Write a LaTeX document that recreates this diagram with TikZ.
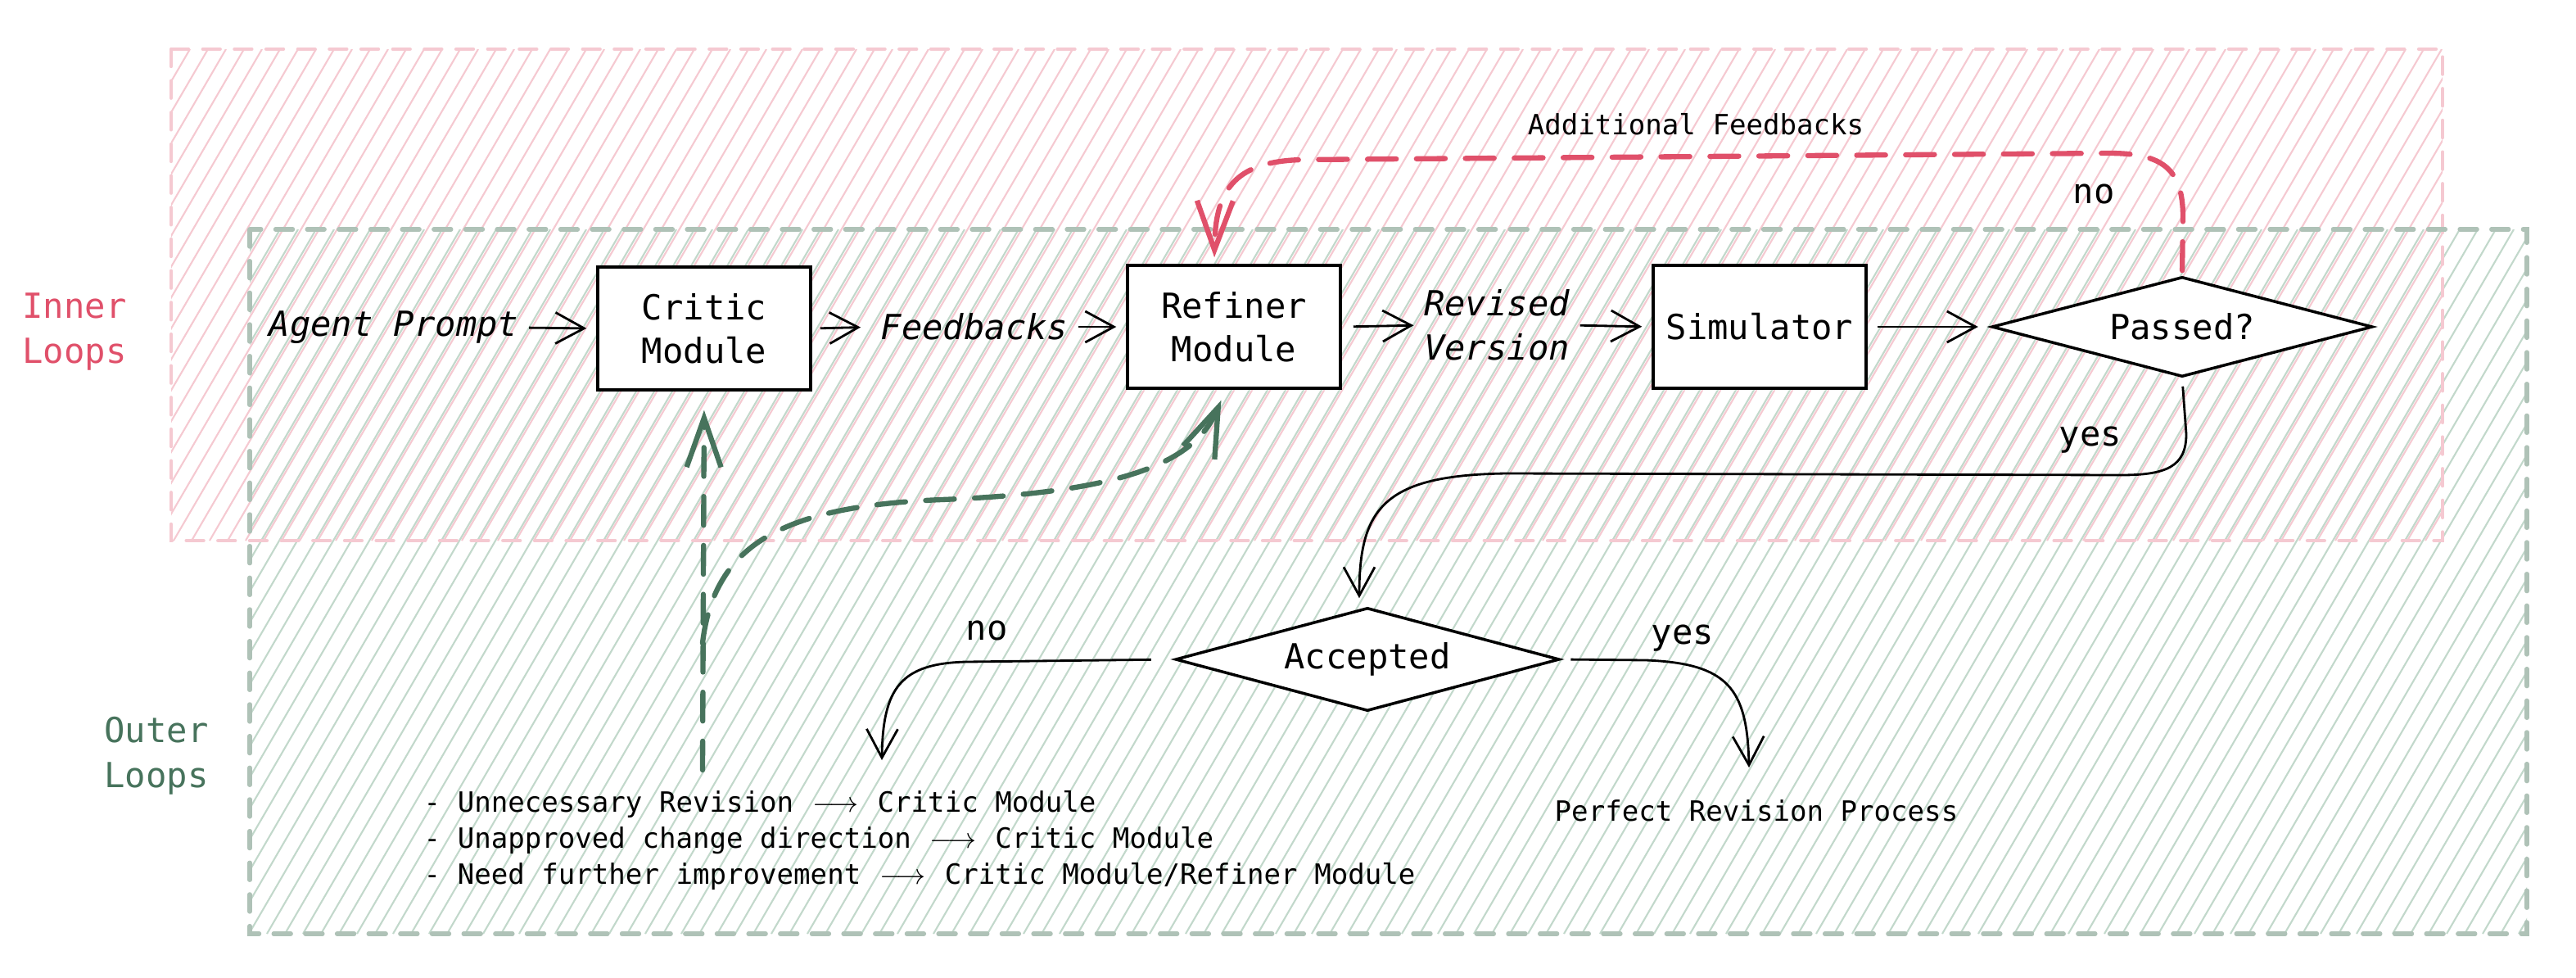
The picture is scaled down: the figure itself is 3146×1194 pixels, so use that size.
\documentclass[tikz,border=0pt]{standalone}
\usepackage{fontspec}
\setmonofont{DejaVu Sans Mono}
\usetikzlibrary{arrows.meta,shapes.geometric}
\definecolor{innerred}{HTML}{E0506A}
\definecolor{innerhatch}{HTML}{F5C9D1}
\definecolor{outergreen}{HTML}{47735C}
\definecolor{outerhatch}{HTML}{C2D8CB}
\newcommand{\longarr}{\makebox[1.8em]{$\longrightarrow$}}

\begin{document}
\begin{tikzpicture}[x=0.1mm,y=-0.1mm,font=\ttfamily]
\tikzstyle{every node}+=[inner sep=0pt]
\tikzstyle{module}=[draw,line width=1pt,fill=white,minimum width=26mm,minimum height=15mm,align=center,font=\ttfamily\fontsize{12}{15}\selectfont]
\tikzstyle{decision}=[draw,diamond,shape aspect=3.8,line width=1pt,fill=white,minimum width=46.5mm,minimum height=12.2mm,font=\ttfamily\fontsize{12}{15}\selectfont]
\tikzstyle{handtext}=[font=\ttfamily\itshape\fontsize{12}{15.5}\selectfont,align=center]
\tikzstyle{answer}=[font=\ttfamily\fontsize{12}{15}\selectfont]
\tikzstyle{listtext}=[font=\ttfamily\fontsize{9.7}{12.6}\selectfont,align=left]
\tikzstyle{looptitle}=[font=\ttfamily\fontsize{12}{15.6}\selectfont,align=center]
\tikzstyle{flow}=[line width=0.8pt,-{Straight Barb[length=3.5mm,width=3.8mm]},shorten <=1.2mm,shorten >=1.2mm]
\tikzstyle{innerloop}=[innerred,line width=1.8pt,dash pattern=on 10pt off 7pt,line cap=round,-{Straight Barb[length=6mm,width=4.4mm]}]
\tikzstyle{outerloop}=[outergreen,line width=1.8pt,dash pattern=on 10pt off 7pt,line cap=round,-{Straight Barb[length=6mm,width=4.2mm]}]
\tikzstyle{innerborder}=[innerhatch,line width=1.2pt,dash pattern=on 6pt off 5pt,line cap=round]
\tikzstyle{outerborder}=[outerhatch!90!black,line width=1.5pt,dash pattern=on 6pt off 5pt,line cap=round]

\useasboundingbox (0,0) rectangle (3146,1194);

\begin{scope}
\clip (209,60) rectangle (2983,660);
\foreach \x in {-360,-338,...,2990} \draw[innerhatch,line width=0.6pt] (\x,660) -- ++(350,-600);
\end{scope}
\begin{scope}
\clip (305,280) rectangle (3086,1140);
\foreach \x in {-510,-488,...,3090} \draw[outerhatch,line width=0.6pt] (\x,1140) -- ++(500,-860);
\end{scope}
\draw[innerborder] (209,60) rectangle (2983,660);
\draw[outerborder] (305,280) rectangle (3086,1140);

\node[looptitle,innerred] (inner) at (91,405) {Inner\\Loops};
\node[looptitle,outergreen] (outer) at (191,923) {Outer\\Loops};

\node[handtext] (agent) at (481,400) {Agent Prompt};
\node[module] (critic) at (860,401) {Critic\\Module};
\node[handtext] (feedbacks) at (1190,399) {Feedbacks};
\node[module] (refiner) at (1507,399) {Refiner\\Module};
\node[handtext] (revised) at (1828,397) {Revised\\Version};
\node[module] (simulator) at (2149,399) {Simulator};
\node[decision] (passed) at (2665,399) {Passed?};
\node[decision,minimum width=46.9mm,minimum height=12.6mm] (accepted) at (1670,805) {Accepted};

\node[listtext] (addfb) at (2071,152) {Additional Feedbacks};
\node[answer] (nopass) at (2557,237) {no};
\node[answer] (yespass) at (2553,537) {yes};
\node[answer] (noacc) at (1205,770) {no};
\node[answer] (yesacc) at (2055,779) {yes};
\node[listtext] (perfect) at (2145,990) {Perfect Revision Process};
\node[listtext,anchor=west] (reasons) at (517,1026) {- Unnecessary Revision \longarr{} Critic Module\\- Unapproved change direction \longarr{} Critic Module\\- Need further improvement \longarr{} Critic Module/Refiner Module};

\coordinate (reasontop) at (858,940);
\coordinate (branch) at (858,785);
\coordinate (noend) at (1077,928);
\coordinate (yesend) at (2136,937);

\draw[flow] (agent.east) -- (critic.west);
\draw[flow,shorten <=1mm,shorten >=2.4mm] (critic.east) -- (feedbacks.west);
\draw[flow] (feedbacks.east) -- (refiner.west);
\draw[flow,shorten <=1.4mm] (refiner.east) -- (revised.west);
\draw[flow] (revised.east) -- (simulator.west);
\draw[flow,shorten >=1.5mm] (simulator.east) -- (passed.west);

\draw[innerloop,shorten <=0.6mm,shorten >=0.8mm] (passed.north) -- (2666,265) .. controls (2666,205) and (2640,187) .. (2575,187) -- (1590,195) .. controls (1505,197) and (1484,235) .. ([xshift=-2.4mm]refiner.north);
\draw[flow,shorten <=1mm,shorten >=1mm] (passed.south) -- (2670,530) .. controls (2670,570) and (2645,580) .. (2590,580) -- (1840,578) .. controls (1690,580) and (1660,620) .. ([xshift=-1mm]accepted.north);
\draw[flow,shorten <=2.8mm,shorten >=0pt] (accepted.west) -- (1180,808) .. controls (1100,810) and (1078,840) .. (noend);
\draw[flow,shorten >=0pt] (accepted.east) -- (2010,806) .. controls (2110,810) and (2134,840) .. (yesend);

\draw[outerloop,shorten >=2.3mm] (reasontop) -- (critic.south);
\draw[outerloop,shorten >=1.4mm] (branch) .. controls (872,665) and (955,618) .. (1150,610) .. controls (1380,601) and (1460,562) .. ([xshift=-1mm]refiner.south);
\end{tikzpicture}
\end{document}
